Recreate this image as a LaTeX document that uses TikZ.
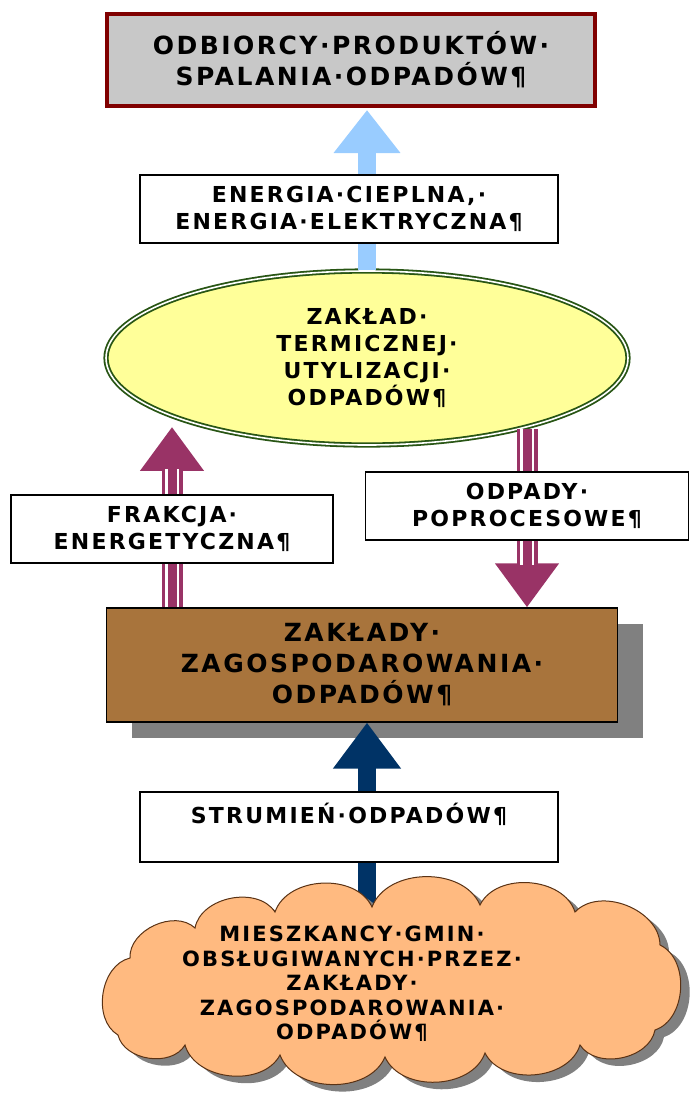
\documentclass[tikz,border=0pt]{standalone}
\usepackage{fontspec}
\newfontfamily\diagfont{DejaVu Sans}[LetterSpace=10]
\usetikzlibrary{shapes.geometric,shadows,arrows.meta,calc}

\definecolor{boxgray}{RGB}{200,200,200}
\definecolor{darkred}{RGB}{128,0,0}
\definecolor{skyblue}{RGB}{153,204,255}
\definecolor{paleyellow}{RGB}{255,255,153}
\definecolor{olivegreen}{RGB}{40,85,20}
\definecolor{plum}{RGB}{153,51,102}
\definecolor{brownbox}{RGB}{168,116,60}
\definecolor{shadowgray}{RGB}{128,128,128}
\definecolor{navy}{RGB}{0,51,102}
\definecolor{peach}{RGB}{255,186,128}
\definecolor{cloudline}{RGB}{90,50,20}

\pgfdeclarelayer{front}
\pgfsetlayers{main,front}

\tikzset{
  bigtext/.style={font=\diagfont\bfseries\fontsize{25}{31}\selectfont, align=center},
  smalltext/.style={font=\diagfont\bfseries\fontsize{22}{27}\selectfont, align=center},
  labelbox/.style={smalltext, draw=black, line width=1.2pt, fill=white, inner sep=0pt},
  skyarrow/.style={skyblue, line width=18pt, -{Triangle[width=64pt,length=43pt]}},
  navyarrow/.style={navy, line width=18pt, -{Triangle[width=65pt,length=46pt]}},
  plumarrow/.style={plum, line width=21pt, -{Triangle[width=61pt,length=44pt]}},
  puff/.style={bend right=68},
}

\begin{document}
\begin{tikzpicture}[x=1pt,y=-1pt]
  \useasboundingbox (0,0) rectangle (697,1098);

  % boxes
  \node[bigtext, draw=darkred, line width=4pt, fill=boxgray, inner sep=0pt,
        minimum width=488pt, minimum height=92pt] (odb) at (351,60)
        {ODBIORCY·PRODUKTÓW·\\SPALANIA·ODPADÓW¶};
  \node[smalltext, ellipse, draw=olivegreen, line width=1.8pt, double=white,
        double distance=1.6pt, fill=paleyellow, inner sep=0pt,
        minimum width=522pt, minimum height=174pt] (zut) at (367,358)
        {ZAKŁAD·\\TERMICZNEJ·\\UTYLIZACJI·\\ODPADÓW¶};
  \node[bigtext, draw=black, line width=1.2pt, fill=brownbox, inner sep=0pt,
        minimum width=511pt, minimum height=114pt,
        drop shadow={shadow xshift=25pt, shadow yshift=-16pt, fill=shadowgray, opacity=1}]
        (zakl) at (362,665) {ZAKŁADY·\\ZAGOSPODAROWANIA·\\ODPADÓW¶};

  % labels and cloud in front of the arrows
  \begin{pgfonlayer}{front}
    \node[labelbox, minimum width=418pt, minimum height=68pt] (energ) at (349,209)
          {ENERGIA·CIEPLNA,·\\ENERGIA·ELEKTRYCZNA¶};
    \node[labelbox, minimum width=322pt, minimum height=68pt] (frak) at (172,529)
          {FRAKCJA·\\ENERGETYCZNA¶};
    \node[labelbox, minimum width=323pt, minimum height=68pt] (odp) at (527,506)
          {ODPADY·\\POPROCESOWE¶};
    \node[labelbox, minimum width=418pt, minimum height=70pt] (strum) at (349,827)
          {STRUMIEŃ·ODPADÓW¶\\\mbox{}};
    % cloud
    \draw[cloudline, line width=1pt, fill=peach,
          drop shadow={shadow xshift=9pt, shadow yshift=-7pt, fill=shadowgray, opacity=1}]
      (660,945) to[puff] (575,912) to[puff] (480,905) to[puff] (372,907)
      to[puff] (275,912) to[puff] (195,928) to[puff] (130,958) to[puff] (118,1035)
      to[puff] (185,1045) to[puff] (280,1055) to[puff] (385,1057) to[puff] (485,1053)
      to[puff] (580,1045) to[puff] (655,1030) to[puff] (660,945) -- cycle;
    \node[smalltext, font=\diagfont\bfseries\fontsize{21}{24.5}\selectfont] (mieszk) at (352,984)
          {MIESZKANCY·GMIN·\\OBSŁUGIWANYCH·PRZEZ·\\ZAKŁADY·\\ZAGOSPODAROWANIA·\\ODPADÓW¶};
  \end{pgfonlayer}

  % arrows
  \coordinate (fk1) at (zakl.north -| frak.center);
  \coordinate (fk2) at ($(frak.center |- zut.south)+(0,-19)$);
  \coordinate (op1) at ($(odp.center |- zut.south)+(0,-17)$);
  \coordinate (op2) at (zakl.north -| odp.center);

  \draw[skyarrow, shorten >=2pt] (zut.north) -- (odb.south -| zut.north);
  \draw[navyarrow] (mieszk.north -| zut.south) -- (zakl.south -| zut.south);
  \foreach \s/\e in {fk1/fk2, op1/op2}{
    \draw[plumarrow] (\s) -- (\e);
    \draw[white, line width=14pt, shorten >=42pt] (\s) -- (\e);
    \draw[plum, line width=9pt, shorten >=42pt] (\s) -- (\e);
  }
\end{tikzpicture}
\end{document}
